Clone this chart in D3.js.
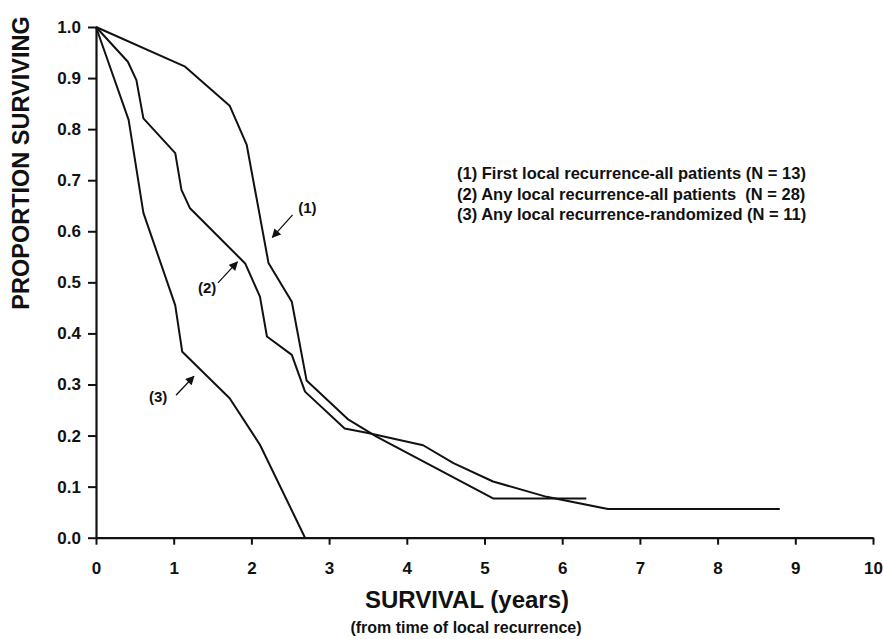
<!DOCTYPE html>
<html>
<head>
<meta charset="utf-8">
<script src="https://cdn.jsdelivr.net/npm/d3@7"></script>
<style>
  html, body { margin: 0; padding: 0; background: #fff; }
  svg { display: block; font-family: "Liberation Sans", Arial, Helvetica, sans-serif; }
</style>
</head>
<body>
<svg id="chart" width="883" height="639"></svg>
<script>
// ---- data ----
const xTicks = [0, 1, 2, 3, 4, 5, 6, 7, 8, 9, 10];
const yTicks = [0, 0.1, 0.2, 0.3, 0.4, 0.5, 0.6, 0.7, 0.8, 0.9, 1.0];

// (1) First local recurrence-all patients (N = 13)
const curve1X = [0, 1.14, 1.72, 1.94, 2.22, 2.52, 2.71, 3.25, 3.61, 5.11, 6.31];
const curve1Y = [1.0, 0.923, 0.846, 0.769, 0.538, 0.462, 0.308, 0.231, 0.198, 0.077, 0.077];

// (2) Any local recurrence-all patients (N = 28)
const curve2X = [0, 0.41, 0.52, 0.61, 1.02, 1.10, 1.21, 1.92, 2.11, 2.20, 2.52, 2.69, 3.20, 3.50, 4.21, 4.60, 5.11, 5.80, 6.59, 8.80];
const curve2Y = [1.0, 0.932, 0.896, 0.821, 0.753, 0.681, 0.645, 0.537, 0.472, 0.394, 0.358, 0.286, 0.214, 0.205, 0.181, 0.146, 0.110, 0.080, 0.056, 0.056];

// (3) Any local recurrence-randomized (N = 11)
const curve3X = [0, 0.42, 0.61, 1.02, 1.11, 1.72, 2.11, 2.69];
const curve3Y = [1.0, 0.818, 0.636, 0.455, 0.364, 0.273, 0.182, 0.0];

const legendLines = [
  "(1) First local recurrence-all patients (N = 13)",
  "(2) Any local recurrence-all patients  (N = 28)",
  "(3) Any local recurrence-randomized (N = 11)"
];

// annotation labels and arrows (data units)
const annLabels = ["(1)", "(2)", "(3)"];
const annLabelX = [2.72, 1.43, 0.80];
const annLabelY = [0.647, 0.489, 0.276];
const annFromX = [2.53, 1.57, 1.03];
const annFromY = [0.632, 0.499, 0.279];
const annToX = [2.27, 1.82, 1.26];
const annToY = [0.588, 0.540, 0.316];

// ---- chart ----
const svg = d3.select("#chart");
const ink = "#111";

const x = d3.scaleLinear().domain([0, 10]).range([96, 873]);
const y = d3.scaleLinear().domain([0, 1]).range([537.7, 27]);

svg.append("defs").append("marker")
  .attr("id", "arrow")
  .attr("viewBox", "0 0 10 10")
  .attr("refX", 9).attr("refY", 5)
  .attr("markerWidth", 10).attr("markerHeight", 9)
  .attr("markerUnits", "userSpaceOnUse")
  .attr("orient", "auto")
  .append("path").attr("d", "M0,0 L10,5 L0,10 Z").attr("fill", ink);

// axes
const xAxis = d3.axisBottom(x).tickValues(xTicks).tickFormat(d3.format("d"))
  .tickSize(7).tickSizeOuter(0).tickPadding(17);
const yAxis = d3.axisLeft(y).tickValues(yTicks).tickFormat(d3.format(".1f"))
  .tickSize(8).tickSizeOuter(0).tickPadding(7);

const gx = svg.append("g").attr("transform", `translate(0,${y(0)})`).call(xAxis);
const gy = svg.append("g").attr("transform", `translate(${x(0)},0)`).call(yAxis);

[gx, gy].forEach(g => {
  g.select(".domain").attr("stroke", ink).attr("stroke-width", 2.2);
  g.selectAll(".tick line").attr("stroke", ink).attr("stroke-width", 2);
  g.selectAll(".tick text")
    .attr("fill", ink)
    .style("font-family", "'Liberation Sans', Arial, sans-serif")
    .style("font-size", "17px")
    .style("font-weight", "bold");
});

// curves
const line = d3.line().x(d => x(d[0])).y(d => y(d[1]));
const curves = [
  d3.zip(curve1X, curve1Y),
  d3.zip(curve2X, curve2Y),
  d3.zip(curve3X, curve3Y)
];
svg.append("g").selectAll("path").data(curves).join("path")
  .attr("d", line)
  .attr("fill", "none")
  .attr("stroke", ink)
  .attr("stroke-width", 2)
  .attr("stroke-linejoin", "round");

// annotation arrows
const ann = d3.range(annLabels.length);
svg.append("g").selectAll("line").data(ann).join("line")
  .attr("x1", i => x(annFromX[i])).attr("y1", i => y(annFromY[i]))
  .attr("x2", i => x(annToX[i])).attr("y2", i => y(annToY[i]))
  .attr("stroke", ink).attr("stroke-width", 1.3)
  .attr("marker-end", "url(#arrow)");
svg.append("g").selectAll("text").data(ann).join("text")
  .attr("x", i => x(annLabelX[i])).attr("y", i => y(annLabelY[i]))
  .attr("text-anchor", "middle").attr("dominant-baseline", "central")
  .attr("fill", ink)
  .style("font-size", "15px").style("font-weight", "bold")
  .text(i => annLabels[i]);

// legend
svg.append("g").selectAll("text").data(legendLines).join("text")
  .attr("x", 457)
  .attr("y", (d, i) => 179 + i * 20.5)
  .attr("fill", ink)
  .style("font-size", "16.5px").style("font-weight", "bold")
  .style("white-space", "pre")
  .attr("xml:space", "preserve")
  .text(d => d);

// axis titles
svg.append("text")
  .attr("transform", "translate(21,163) rotate(-90)")
  .attr("text-anchor", "middle").attr("dominant-baseline", "central")
  .attr("fill", ink)
  .style("font-size", "23.5px").style("font-weight", "bold")
  .text("PROPORTION SURVIVING");

svg.append("text")
  .attr("x", 467).attr("y", 608)
  .attr("text-anchor", "middle")
  .attr("fill", ink)
  .style("font-size", "24px").style("font-weight", "bold")
  .text("SURVIVAL (years)");

svg.append("text")
  .attr("x", 466).attr("y", 633)
  .attr("text-anchor", "middle")
  .attr("fill", ink)
  .style("font-size", "16px").style("font-weight", "bold")
  .text("(from time of local recurrence)");
</script>
</body>
</html>
